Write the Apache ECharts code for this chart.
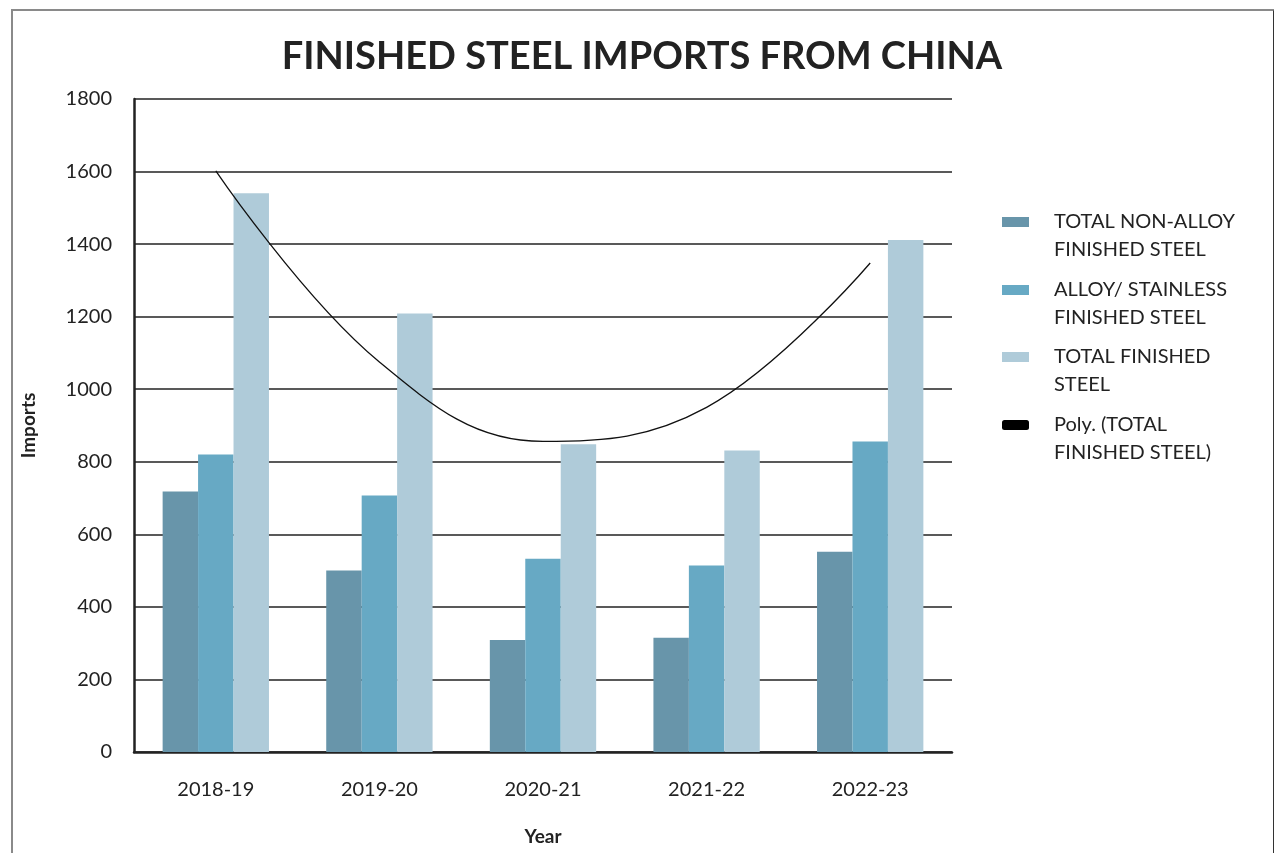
<!DOCTYPE html>
<html>
<head>
<meta charset="utf-8">
<title>Finished steel imports from China</title>
<script src="https://cdn.jsdelivr.net/npm/echarts@6/dist/echarts.min.js"></script>
<style>
  html, body { margin: 0; padding: 0; background: #fff; }
  #frame {
    position: absolute; left: 11px; top: 9px; width: 1260px; height: 900px;
    border-left: 2px solid #8a8a8a; border-top: 2px solid #8a8a8a; border-right: 2px solid #333;
  }
  #chart { position: absolute; left: 0; top: 0; width: 1274px; height: 853px; }
</style>
</head>
<body>
<div id="frame"></div>
<div id="chart"></div>
<script>
var years = ['2018-19', '2019-20', '2020-21', '2021-22', '2022-23'];
var nonAlloy = [718, 500, 309, 315, 552];
var alloyStainless = [820, 707, 533, 514, 856];
var totalFinished = [1540, 1209, 848, 831, 1411];
// poly trend line
var polyTrend = [1602, 1075, 856, 950, 1348];

var seriesNames = [
  'TOTAL NON-ALLOY\nFINISHED STEEL',
  'ALLOY/ STAINLESS\nFINISHED STEEL',
  'TOTAL FINISHED\nSTEEL',
  'Poly. (TOTAL\nFINISHED STEEL)'
];
var colors = ['#6895aa', '#67a9c4', '#afcbd9', '#000000'];

var chart = echarts.init(document.getElementById('chart'));
var font = 'Lato, "Open Sans", sans-serif';

function legendFor(i, top) {
  return {
    left: 1002,
    top: top,
    padding: 0,
    itemWidth: 27,
    itemHeight: 10,
    selectedMode: false,
    data: [{ name: seriesNames[i], icon: i === 3 ? 'roundRect' : 'rect', itemStyle: { color: colors[i] } }],
    // blank first line so the icon sits beside the first text line
    formatter: function (name) { return ' \n' + name; },
    textStyle: {
      fontFamily: font,
      fontSize: 20,
      color: '#222',
      lineHeight: 28,
      padding: [0, 0, 0, 20]
    }
  };
}

var option = {
  animation: false,
  title: {
    text: 'FINISHED STEEL IMPORTS FROM CHINA',
    left: 637,
    textAlign: 'center',
    top: 33,
    textStyle: { fontFamily: font, fontSize: 38, fontWeight: 'bold', color: '#222' }
  },
  legend: [legendFor(0, 180), legendFor(1, 248), legendFor(2, 315), legendFor(3, 383)],
  grid: { left: 134, right: 322, top: 99, bottom: 101 },
  xAxis: {
    type: 'category',
    data: years,
    name: 'Year',
    nameLocation: 'middle',
    nameGap: 75,
    nameTextStyle: { fontFamily: font, fontSize: 19, fontWeight: 'bold', color: '#222' },
    axisLine: { lineStyle: { color: '#222', width: 2.5 } },
    axisTick: { show: false },
    axisLabel: { fontFamily: font, fontSize: 20, color: '#222', margin: 28 }
  },
  yAxis: {
    type: 'value',
    min: 0,
    max: 1800,
    interval: 200,
    name: 'Imports',
    nameLocation: 'middle',
    nameGap: 96,
    nameTextStyle: { fontFamily: font, fontSize: 19, fontWeight: 'bold', color: '#222' },
    axisLine: { show: true, lineStyle: { color: '#222', width: 2.5 } },
    axisTick: { show: false },
    axisLabel: { fontFamily: font, fontSize: 20, color: '#222', margin: 22, formatter: function (v) { return String(v); } },
    splitLine: { lineStyle: { color: '#222', width: 1.5 } }
  },
  series: [
    { name: seriesNames[0], type: 'bar', data: nonAlloy, barGap: '0%', barCategoryGap: '35%', itemStyle: { color: colors[0] } },
    { name: seriesNames[1], type: 'bar', data: alloyStainless, barGap: '0%', barCategoryGap: '35%', itemStyle: { color: colors[1] } },
    { name: seriesNames[2], type: 'bar', data: totalFinished, barGap: '0%', barCategoryGap: '35%', itemStyle: { color: colors[2] } },
    {
      name: seriesNames[3], type: 'line', data: polyTrend, smooth: 0.4, showSymbol: false,
      itemStyle: { color: '#000' }, lineStyle: { color: '#111', width: 1.3 }, z: 5
    }
  ]
};
chart.setOption(option);
</script>
</body>
</html>
